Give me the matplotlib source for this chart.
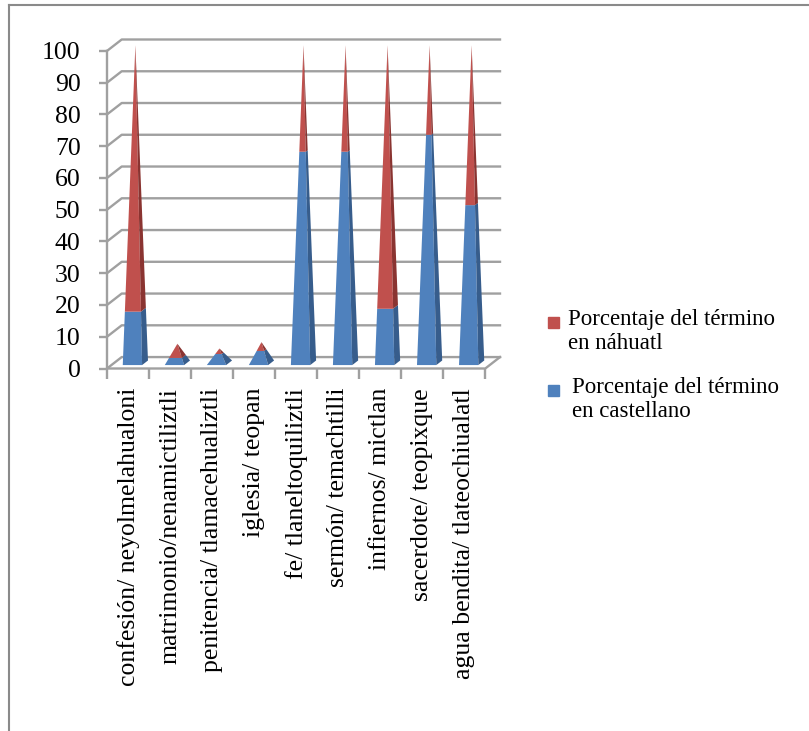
import numpy as np
import matplotlib.pyplot as plt
from matplotlib.patches import Rectangle
from matplotlib.lines import Line2D

# data
categories = ['confesión/ neyolmelahualoni', 'matrimonio/nenamictiliztli',
              'penitencia/ tlamacehualiztli', 'iglesia/ teopan',
              'fe/ tlaneltoquiliztli', 'sermón/ temachtilli',
              'infiernos/ mictlan', 'sacerdote/ teopixque',
              'agua bendita/ tlateochiualatl']
castellano = [16.7, 2, 3, 4, 66.7, 66.7, 17.6, 72, 50]
nahuatl = [83.3, 4, 1.5, 2.5, 33.3, 33.3, 82.4, 28, 50]
legend_labels = ['Porcentaje del término\nen náhuatl', 'Porcentaje del término\nen castellano']
y_ticks = list(range(0, 101, 10))

serif = 'Liberation Serif'
grid_col = '#a0a0a0'
blue_front, blue_side = '#4f81bd', '#375d8c'
red_front, red_side = '#c0504d', '#8a3431'

# 3d depth offset (data units) and pyramid geometry
ox, oy = 0.35, 3.6
w = 0.46
df, db = 0.3, 0.7

W, H = 809, 731
fig = plt.figure(figsize=(W / 100, H / 100), dpi=100)
ax = fig.add_axes([107 / W, (H - 368.5) / H, 393 / W, 329 / H])
n = len(categories)
ax.set_xlim(0, n + ox)
ax.set_ylim(0, 100 + oy)
for s in ax.spines.values():
    s.set_visible(False)

# walls and floor
for v in y_ticks:
    ax.plot([0, ox, n + ox], [v, v + oy, v + oy], color=grid_col, lw=1.7, clip_on=False, zorder=1)
ax.plot([0, 0, n, n + ox], [100, 0, 0, oy], color=grid_col, lw=1.7, clip_on=False, zorder=1)


def lerp(p, q, t):
    return (p[0] + t * (q[0] - p[0]), p[1] + t * (q[1] - p[1]))


# stacked pyramids
for i in range(n):
    c = i + 0.5
    total = castellano[i] + nahuatl[i]
    fl = (c - w / 2 + df * ox, df * oy)
    fr = (c + w / 2 + df * ox, df * oy)
    br = (c + w / 2 + db * ox, db * oy)
    tip = (c + 0.5 * ox, total + 0.5 * oy)
    segs = [(0, castellano[i], blue_front, blue_side),
            (castellano[i], total, red_front, red_side)]
    for h0, h1, cf, cs in segs:
        t0, t1 = h0 / total, h1 / total
        front = [lerp(fl, tip, t0), lerp(fr, tip, t0), lerp(fr, tip, t1), lerp(fl, tip, t1)]
        side = [lerp(fr, tip, t0), lerp(br, tip, t0), lerp(br, tip, t1), lerp(fr, tip, t1)]
        ax.fill(*zip(*front), color=cf, lw=0, zorder=3)
        ax.fill(*zip(*side), color=cs, lw=0, zorder=3)

# axes ticks
ax.set_yticks(y_ticks)
ax.set_yticklabels([str(v) for v in y_ticks], fontsize=18.5, family=serif)
ax.tick_params(axis='y', length=6, width=1.7, color=grid_col, pad=13)
ax.set_xticks(np.arange(n + 1))
ax.set_xticklabels([])
ax.tick_params(axis='x', which='major', length=7, width=1.7, color=grid_col)
ax.set_xticks(np.arange(n) + 0.5, minor=True)
ax.set_xticklabels(categories, minor=True, rotation=90, fontsize=18.5, family=serif)
ax.tick_params(axis='x', which='minor', length=0, pad=14)

# legend
leg_colors = [red_front, blue_front]
leg_y = [322, 390]
leg_x = [568, 572]
for lab, col, yy, xx in zip(legend_labels, leg_colors, leg_y, leg_x):
    fig.patches.append(Rectangle((548 / W, 1 - (yy + 6) / H), 11 / W, 11 / H,
                                 transform=fig.transFigure, color=col))
    fig.text(xx / W, 1 - (yy - 13) / H, lab, fontsize=16.5, family=serif,
             va='top', ha='left', linespacing=1.2)

# outer border (only top and left visible)
fig.add_artist(Line2D([8.5 / W, 1], [1 - 4.5 / H, 1 - 4.5 / H], color='#8a8a8a', lw=1.5,
                      transform=fig.transFigure))
fig.add_artist(Line2D([8.5 / W, 8.5 / W], [0, 1 - 4.5 / H], color='#8a8a8a', lw=1.5,
                      transform=fig.transFigure))

fig.savefig('out.png', dpi=100)
